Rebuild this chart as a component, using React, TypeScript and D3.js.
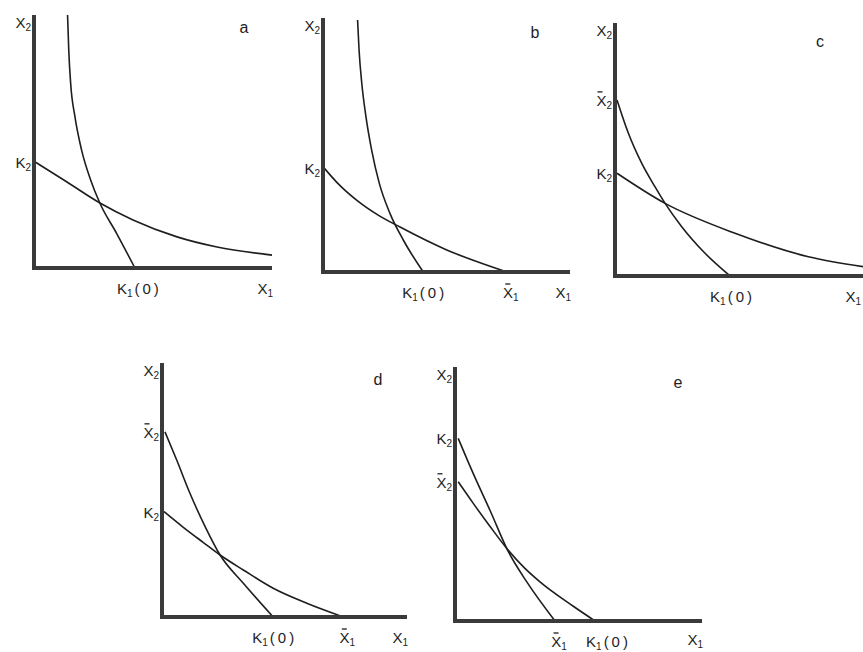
import React from "react";
import * as d3 from "d3";

// panel letters and the axis labels each one carries
const panelIds = ["a", "b", "c", "d", "e"];
const yMarks = [
  [{ name: "K", sub: "2", bar: false, at: 41.9 }],
  [{ name: "K", sub: "2", bar: false, at: 40.9 }],
  [
    { name: "X", sub: "2", bar: true, at: 69.6 },
    { name: "K", sub: "2", bar: false, at: 40.6 },
  ],
  [
    { name: "X", sub: "2", bar: true, at: 72.9 },
    { name: "K", sub: "2", bar: false, at: 41.5 },
  ],
  [
    { name: "K", sub: "2", bar: false, at: 71.9 },
    { name: "X", sub: "2", bar: true, at: 54.8 },
  ],
];
const xMarks = [
  [{ name: "K", sub: "1", tail: "(0)", bar: false, at: 42.4 }],
  [
    { name: "K", sub: "1", tail: "(0)", bar: false, at: 40.6 },
    { name: "X", sub: "1", tail: "", bar: true, at: 74.4 },
  ],
  [{ name: "K", sub: "1", tail: "(0)", bar: false, at: 46.4 }],
  [
    { name: "K", sub: "1", tail: "(0)", bar: false, at: 45.4 },
    { name: "X", sub: "1", tail: "", bar: true, at: 74.0 },
  ],
  [
    { name: "X", sub: "1", tail: "", bar: true, at: 40.5 },
    { name: "K", sub: "1", tail: "(0)", bar: false, at: 56.7 },
  ],
];

// isoclines, [x1, x2] in percent of each axis
const steepCurves = [
  [[14.1, 100], [14.6, 86.2], [15.4, 73.0], [17.2, 59.8], [20.0, 46.6], [23.8, 34.8], [27.7, 25.6], [34.7, 13.7], [42.4, 0]],
  [[14.0, 99.2], [14.6, 87.4], [15.7, 74.3], [17.4, 61.1], [19.7, 48.0], [22.8, 34.9], [27.1, 23.1], [32.5, 12.6], [40.6, 0]],
  [[0.8, 69.6], [5.4, 56.4], [10.8, 44.5], [16.1, 35.3], [20.2, 28.7], [26.9, 19.5], [36.3, 9.0], [46.4, 0]],
  [[1.2, 72.9], [6.0, 61.8], [11.4, 48.7], [17.6, 35.6], [23.7, 24.4], [33.2, 13.3], [45.4, 0]],
  [[1.3, 71.9], [7.4, 58.0], [14.2, 43.5], [21.6, 27.3], [29.0, 15.5], [40.5, 0]],
];
const flatCurves = [
  [[0.5, 41.9], [13.7, 34.1], [27.7, 25.7], [41.6, 19.0], [60.1, 12.3], [76.9, 8.3], [100, 5.1]],
  [[0.5, 40.9], [5.9, 35.0], [13.6, 28.3], [22.0, 22.6], [31.2, 17.7], [50.1, 8.7], [62.2, 4.1], [74.4, 0]],
  [[0.8, 40.6], [20.2, 28.7], [48.4, 16.9], [78.0, 7.6], [100, 3.7]],
  [[0.8, 41.5], [8.7, 35.3], [16.9, 29.3], [23.7, 24.4], [33.2, 18.5], [45.4, 11.3], [59.1, 5.4], [74.0, 0]],
  [[1.3, 54.8], [7.4, 46.3], [14.2, 37.2], [21.6, 27.8], [28.0, 21.0], [34.4, 15.4], [47.9, 5.8], [56.7, 0]],
];

// where each panel's axes sit on the page, its letter offset and K1(0) label offset
const frames = [
  { ox: 34, oy: 268, w: 238, h: 253, lx: -28, ly: 18, kx: -18 },
  { ox: 323, oy: 272, w: 247, h: 254, lx: -35, ly: 20, kx: -21 },
  { ox: 615, oy: 276, w: 248, h: 253, lx: -43, ly: 24, kx: -20 },
  { ox: 162, oy: 617, w: 245, h: 254, lx: -29, ly: 22, kx: -21 },
  { ox: 455, oy: 621, w: 247, h: 254, lx: -24, ly: 21, kx: -9 },
];

const ink = "#1e1e1e";
const axisInk = "#3a3a3a";
const font = "'Liberation Sans', Arial, Helvetica, sans-serif";

function Sym({ x, y, name, sub, tail = "", bar = false, anchor = "start" }) {
  const barX = anchor === "end" ? x - 12 : anchor === "middle" ? x - 3 : x + 5;
  return (
    <g>
      <text x={x} y={y} textAnchor={anchor} fontSize={15} fill={ink} fontFamily={font}>
        {name}
        <tspan fontSize={10} dy={3}>{sub}</tspan>
        {tail ? (
          <tspan dy={-3} dx={2} letterSpacing={3}>
            {tail}
          </tspan>
        ) : null}
      </text>
      {bar ? (
        <line x1={barX - 2.5} x2={barX + 2.5} y1={y - 14} y2={y - 14} stroke={ink} strokeWidth={1.3} />
      ) : null}
    </g>
  );
}

function Panel({ i }) {
  const f = frames[i];
  const x = d3.scaleLinear().domain([0, 100]).range([f.ox, f.ox + f.w]);
  const y = d3.scaleLinear().domain([0, 100]).range([f.oy, f.oy - f.h]);
  const line = d3
    .line()
    .x((d) => x(d[0]))
    .y((d) => y(d[1]))
    .curve(d3.curveMonotoneX);

  return (
    <g>
      <path d={line(steepCurves[i])} fill="none" stroke={ink} strokeWidth={1.6} />
      <path d={line(flatCurves[i])} fill="none" stroke={ink} strokeWidth={1.6} />
      <line x1={x(0)} x2={x(0)} y1={y(0) + 2} y2={y(100)} stroke={axisInk} strokeWidth={4} />
      <line x1={x(0) - 2} x2={x(100)} y1={y(0)} y2={y(0)} stroke={axisInk} strokeWidth={4} />

      <Sym x={x(0) - 3} y={y(100) + 13} name="X" sub="2" anchor="end" />
      {yMarks[i].map((m, k) => (
        <Sym key={k} x={x(0) - 3} y={y(m.at) + 6} name={m.name} sub={m.sub} bar={m.bar} anchor="end" />
      ))}
      {xMarks[i].map((m, k) =>
        m.tail ? (
          <Sym key={k} x={x(m.at) + f.kx} y={y(0) + 26} name={m.name} sub={m.sub} tail={m.tail} anchor="start" />
        ) : (
          <Sym key={k} x={x(m.at) + 4} y={y(0) + 26} name={m.name} sub={m.sub} bar={m.bar} anchor="middle" />
        )
      )}
      <Sym x={Math.min(x(100) + 1, 861)} y={Math.min(y(0) + 26, 645)} name="X" sub="1" anchor="end" />
      <text x={x(100) + f.lx} y={y(100) + f.ly} fontSize={16} fill={ink} fontFamily={font} textAnchor="middle">
        {panelIds[i]}
      </text>
    </g>
  );
}

export default function App() {
  return (
    <svg width={863} height={652} style={{ position: "absolute", left: 0, top: 0, background: "#fff" }}>
      {panelIds.map((id, i) => (
        <Panel key={id} i={i} />
      ))}
    </svg>
  );
}
